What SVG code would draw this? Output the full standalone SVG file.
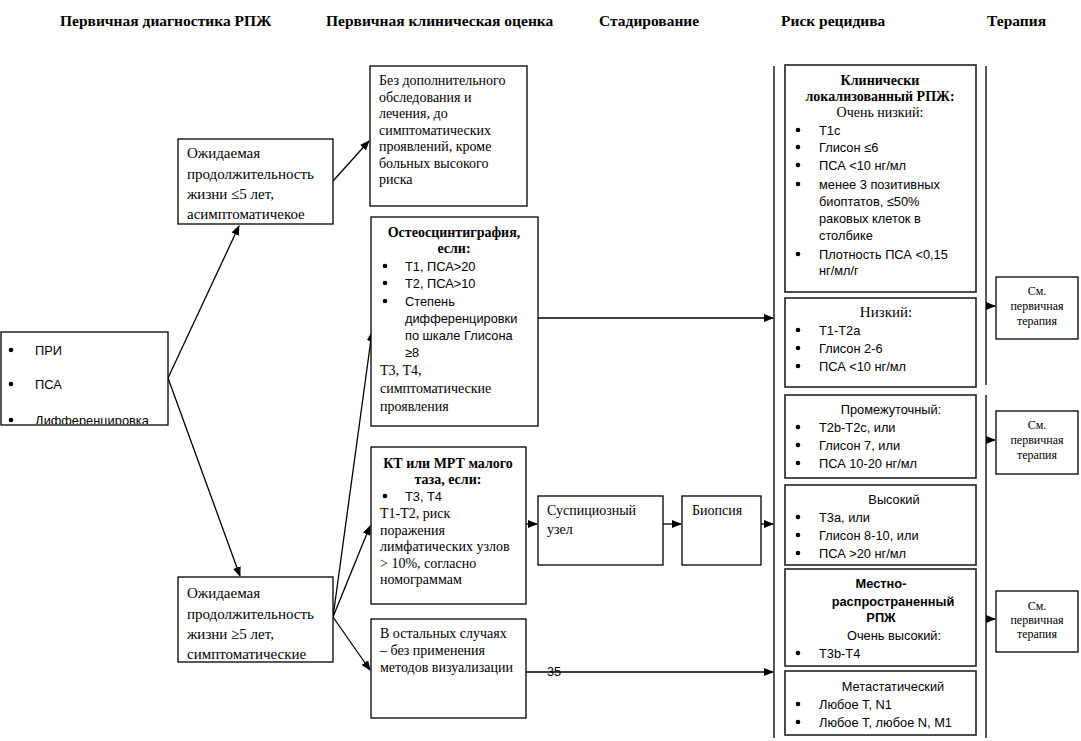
<svg xmlns="http://www.w3.org/2000/svg" width="1081" height="741" viewBox="0 0 1081 741">
<style>
.box{fill:#fff;stroke:#000;stroke-width:1.3}
.rbox{fill:#fff;stroke:#222;stroke-width:1.6}
.hdr{font-family:"Liberation Serif",serif;font-size:15.5px;font-weight:bold;fill:#000}
.s{font-family:"Liberation Serif",serif;font-size:15px;fill:#000}
.s13{font-family:"Liberation Serif",serif;font-size:14px;fill:#000}
.sb{font-family:"Liberation Serif",serif;font-size:14px;font-weight:bold;fill:#000}
.t{font-family:"Liberation Serif",serif;font-size:12px;fill:#000}
.c{font-family:"Liberation Sans",Arial,sans-serif;font-size:12.8px;fill:#000}
.cb{font-family:"Liberation Sans",Arial,sans-serif;font-size:12.8px;font-weight:bold;fill:#000}
.mid{text-anchor:middle}
.ln{stroke:#000;stroke-width:1.3;fill:none}
.bu{fill:#000}
</style>
<defs>
<marker id="ar" markerUnits="userSpaceOnUse" markerWidth="10" markerHeight="8" refX="9" refY="4" orient="auto">
<path d="M0,0 L10,4 L0,8 z" fill="#000"/>
</marker>
<clipPath id="clipL"><rect x="1" y="332" width="167" height="92"/></clipPath>
</defs>

<g id="headers">
<text class="hdr" x="60" y="26">Первичная диагностика РПЖ</text>
<text class="hdr" x="326" y="26">Первичная клиническая оценка</text>
<text class="hdr" x="599" y="26">Стадирование</text>
<text class="hdr" x="781" y="26">Риск рецидива</text>
<text class="hdr" x="987" y="26">Терапия</text>
</g>

<g id="connectors">
<path class="ln" d="M168,378 L239,226" marker-end="url(#ar)"/>
<path class="ln" d="M168,378 L240,576" marker-end="url(#ar)"/>
<path class="ln" d="M333,181 L369,141" marker-end="url(#ar)"/>
<path class="ln" d="M333,617 L372,332" marker-end="url(#ar)"/>
<path class="ln" d="M333,617 L370,526" marker-end="url(#ar)"/>
<path class="ln" d="M333,617 L370,670" marker-end="url(#ar)"/>
<path class="ln" d="M538,318 L773,318" marker-end="url(#ar)"/>
<path class="ln" d="M526,524 L537,524" marker-end="url(#ar)"/>
<path class="ln" d="M663,524 L681,524" marker-end="url(#ar)"/>
<path class="ln" d="M761,524 L773,524" marker-end="url(#ar)"/>
<path class="ln" d="M526,672 L773,672" marker-end="url(#ar)"/>
<path class="ln" d="M774,66 L774,738"/>
<path class="ln" d="M986,66 L986,385"/>
<path class="ln" d="M986,395 L986,738"/>
<path class="ln" d="M986,306 L995,306" marker-end="url(#ar)"/>
<path class="ln" d="M986,440 L995,440" marker-end="url(#ar)"/>
<path class="ln" d="M986,619 L995,619" marker-end="url(#ar)"/>
</g>

<g id="n-diag">
<rect class="box" x="1" y="332" width="167" height="93"/>
<g clip-path="url(#clipL)">
<circle class="bu" cx="11" cy="350" r="2.3"/><text class="c" x="35" y="355">ПРИ</text>
<circle class="bu" cx="11" cy="384" r="2.3"/><text class="c" x="35" y="389">ПСА</text>
<circle class="bu" cx="11" cy="420" r="2.3"/><text class="c" x="35" y="425">Дифференцировка</text>
</g>
</g>

<g id="n-le5">
<rect class="box" x="178" y="139" width="155" height="85"/>
<text class="s" x="187" y="158">Ожидаемая</text>
<text class="s" x="187" y="179">продолжительность</text>
<text class="s" x="187" y="199">жизни ≤5 лет,</text>
<text class="s" x="187" y="219">асимптоматичекое</text>
</g>

<g id="n-ge5">
<rect class="box" x="178" y="577" width="155" height="85"/>
<text class="s" x="187" y="598">Ожидаемая</text>
<text class="s" x="187" y="619">продолжительность</text>
<text class="s" x="187" y="639">жизни ≥5 лет,</text>
<text class="s" x="187" y="659">симптоматические</text>
</g>

<g id="n-noexam">
<rect class="box" x="370" y="66" width="157" height="140"/>
<text class="s13" x="379" y="85">Без дополнительного</text>
<text class="s13" x="379" y="101.5">обследования и</text>
<text class="s13" x="379" y="118">лечения, до</text>
<text class="s13" x="379" y="134.5">симптоматических</text>
<text class="s13" x="379" y="151">проявлений, кроме</text>
<text class="s13" x="379" y="167.5">больных высокого</text>
<text class="s13" x="379" y="184">риска</text>
</g>

<g id="n-osteo">
<rect class="box" x="371" y="217" width="167" height="209"/>
<text class="sb mid" x="454" y="237">Остеосцинтиграфия,</text>
<text class="sb mid" x="454" y="253">если:</text>
<circle class="bu" cx="385" cy="266" r="2.3"/><text class="c" x="405" y="271">Т1, ПСА&gt;20</text>
<circle class="bu" cx="385" cy="283" r="2.3"/><text class="c" x="405" y="288">Т2, ПСА&gt;10</text>
<circle class="bu" cx="385" cy="301" r="2.3"/><text class="c" x="405" y="306">Степень</text>
<text class="c" x="405" y="323">дифференцировки</text>
<text class="c" x="405" y="340">по шкале Глисона</text>
<text class="c" x="405" y="357">≥8</text>
<text class="s13" x="380" y="375">Т3, Т4,</text>
<text class="s13" x="380" y="393">симптоматические</text>
<text class="s13" x="380" y="411">проявления</text>
</g>

<g id="n-ct">
<rect class="box" x="371" y="447" width="155" height="157"/>
<text class="sb mid" x="448" y="468">КТ или МРТ малого</text>
<text class="sb mid" x="448" y="484">таза, если:</text>
<circle class="bu" cx="385" cy="496" r="2.3"/><text class="c" x="405" y="501">Т3, Т4</text>
<text class="s13" x="380" y="518">Т1-Т2, риск</text>
<text class="s13" x="380" y="534.5">поражения</text>
<text class="s13" x="380" y="551">лимфатических узлов</text>
<text class="s13" x="380" y="567.5">&gt; 10%, согласно</text>
<text class="s13" x="380" y="584">номограммам</text>
</g>

<g id="n-other">
<rect class="box" x="371" y="619" width="155" height="99"/>
<text class="s13" x="380" y="638">В остальных случаях</text>
<text class="s13" x="380" y="655">– без применения</text>
<text class="s13" x="380" y="672">методов визуализации</text>
</g>
<text class="c" x="547" y="676">35</text>

<g id="n-susp">
<rect class="box" x="538" y="496" width="125" height="69"/>
<text class="s13" x="547" y="515">Суспициозный</text>
<text class="s13" x="547" y="534">узел</text>
</g>

<g id="n-biopsy">
<rect class="box" x="682" y="496" width="79" height="69"/>
<text class="s13" x="692" y="515">Биопсия</text>
</g>

<g id="n-vlow">
<rect class="rbox" x="785" y="65" width="191" height="227"/>
<text class="sb mid" x="880" y="85">Клинически</text>
<text class="sb mid" x="880" y="101">локализованный РПЖ:</text>
<text class="s13 mid" x="880" y="117">Очень низкий:</text>
<circle class="bu" cx="798" cy="130" r="2.3"/><text class="c" x="819" y="135">Т1с</text>
<circle class="bu" cx="798" cy="147" r="2.3"/><text class="c" x="819" y="152">Глисон ≤6</text>
<circle class="bu" cx="798" cy="165" r="2.3"/><text class="c" x="819" y="170">ПСА &lt;10 нг/мл</text>
<circle class="bu" cx="798" cy="184" r="2.3"/><text class="c" x="819" y="189">менее 3 позитивных</text>
<text class="c" x="819" y="206">биоптатов, ≤50%</text>
<text class="c" x="819" y="223">раковых клеток в</text>
<text class="c" x="819" y="240">столбике</text>
<circle class="bu" cx="798" cy="254" r="2.3"/><text class="c" x="819" y="259">Плотность ПСА &lt;0,15</text>
<text class="c" x="819" y="275">нг/мл/г</text>
</g>

<g id="n-low">
<rect class="rbox" x="785" y="298" width="191" height="89"/>
<text class="s mid" x="886" y="317">Низкий:</text>
<circle class="bu" cx="798" cy="330" r="2.3"/><text class="c" x="819" y="335">Т1-Т2а</text>
<circle class="bu" cx="798" cy="348" r="2.3"/><text class="c" x="819" y="353">Глисон 2-6</text>
<circle class="bu" cx="798" cy="366" r="2.3"/><text class="c" x="819" y="371">ПСА &lt;10 нг/мл</text>
</g>

<g id="n-mid">
<rect class="rbox" x="785" y="395" width="191" height="83"/>
<text class="c mid" x="891" y="414">Промежуточный:</text>
<circle class="bu" cx="798" cy="427" r="2.3"/><text class="c" x="819" y="432">T2b-T2c, или</text>
<circle class="bu" cx="798" cy="445" r="2.3"/><text class="c" x="819" y="450">Глисон 7, или</text>
<circle class="bu" cx="798" cy="463" r="2.3"/><text class="c" x="819" y="468">ПСА 10-20 нг/мл</text>
</g>

<g id="n-high">
<rect class="rbox" x="785" y="485" width="191" height="80"/>
<text class="c mid" x="894" y="504">Высокий</text>
<circle class="bu" cx="798" cy="517" r="2.3"/><text class="c" x="819" y="522">Т3а, или</text>
<circle class="bu" cx="798" cy="535" r="2.3"/><text class="c" x="819" y="540">Глисон 8-10, или</text>
<circle class="bu" cx="798" cy="553" r="2.3"/><text class="c" x="819" y="558">ПСА &gt;20 нг/мл</text>
</g>

<g id="n-local">
<rect class="rbox" x="785" y="569" width="191" height="97"/>
<text class="cb mid" x="881" y="588">Местно-</text>
<text class="cb mid" x="893" y="606">распространенный</text>
<text class="cb mid" x="881" y="622">РПЖ</text>
<text class="c mid" x="894" y="640">Очень высокий:</text>
<circle class="bu" cx="798" cy="653" r="2.3"/><text class="c" x="819" y="658">Т3b-Т4</text>
</g>

<g id="n-meta">
<rect class="rbox" x="785" y="671" width="191" height="64"/>
<text class="c mid" x="893" y="691">Метастатический</text>
<circle class="bu" cx="798" cy="704" r="2.3"/><text class="c" x="819" y="709">Любое Т, N1</text>
<circle class="bu" cx="798" cy="722" r="2.3"/><text class="c" x="819" y="727">Любое Т, любое N, М1</text>
</g>

<g id="n-ther1">
<rect class="box" x="996" y="277" width="82" height="62"/>
<text class="t mid" x="1037" y="295">См.</text>
<text class="t mid" x="1037" y="310">первичная</text>
<text class="t mid" x="1037" y="325">терапия</text>
</g>
<g id="n-ther2">
<rect class="box" x="996" y="411" width="82" height="63"/>
<text class="t mid" x="1037" y="429">См.</text>
<text class="t mid" x="1037" y="444">первичная</text>
<text class="t mid" x="1037" y="459">терапия</text>
</g>
<g id="n-ther3">
<rect class="box" x="996" y="591" width="82" height="61"/>
<text class="t mid" x="1037" y="610">См.</text>
<text class="t mid" x="1037" y="624">первичная</text>
<text class="t mid" x="1037" y="638">терапия</text>
</g>
</svg>
